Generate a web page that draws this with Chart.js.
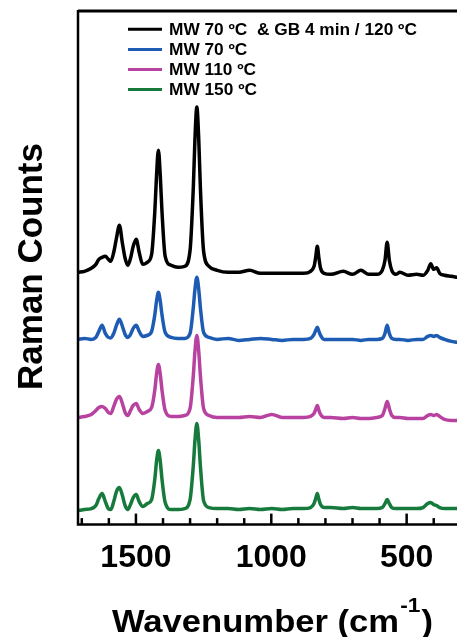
<!DOCTYPE html>
<html>
<head>
<meta charset="utf-8">
<script src="https://cdn.jsdelivr.net/npm/chart.js@4.4.1/dist/chart.umd.min.js"></script>
<style>
  body { margin: 0; background: #fff; }
  canvas { display: block; }
</style>
</head>
<body>
<canvas id="ramanChart" width="457" height="637"></canvas>
<script>
// wavenumber grid (cm-1), shared by all four spectra
var wavenumbers = [1714, 1690, 1665, 1648, 1637, 1625, 1613, 1602, 1593, 1582,
    1572, 1561, 1550, 1540, 1530, 1520, 1510, 1499, 1488, 1475,
    1458, 1442, 1430, 1424, 1417, 1410, 1404, 1392, 1370, 1345,
    1320, 1300, 1288, 1282, 1275, 1268, 1262, 1250, 1230, 1200,
    1160, 1120, 1080, 1040, 998, 960, 920, 880, 855, 842,
    836, 830, 824, 818, 805, 780, 734, 700, 669, 640,
    610, 590, 580, 572, 564, 555, 540, 525, 495, 463,
    440, 422, 411, 400, 389, 378, 360, 335, 314];

// Raman counts (a.u., stacked as in the figure)
var countsGB120 = [252, 253, 256, 260, 265, 267, 268, 265, 263, 272,
    286, 299, 281, 266, 259, 266, 278, 285, 272, 260,
    262, 270, 314, 348, 374, 348, 314, 268, 259, 257,
    258, 274, 337, 385, 417, 385, 337, 273, 258, 254,
    252, 252, 254, 251, 251, 251, 251, 251, 253, 258,
    267, 278, 266, 256, 251, 250, 253, 250, 254, 250,
    250, 254, 264, 282, 264, 254, 250, 252, 249, 250,
    249, 254, 260.5, 255, 256.5, 251, 249, 248, 247];
var countsMW70 = [185, 186, 185, 187, 193, 199, 191, 187, 186.5, 191,
    199, 205, 198, 190, 187, 190, 196, 199, 193, 188,
    189, 193, 210, 223, 232, 223, 210, 192, 187, 186,
    186, 191, 217, 235, 247, 235, 217, 192, 187, 185,
    186, 184, 185, 186, 185, 184, 185, 185, 186, 190,
    194, 197, 193, 189, 185, 185, 185, 185, 184, 185,
    185, 186, 191, 199, 191, 186, 185, 185, 184, 185,
    185, 188, 189, 188, 189, 187, 185, 183, 182];
var countsMW110 = [107, 108, 110, 114, 117, 118, 116, 112, 111, 118,
    125, 128, 121, 112, 109, 114, 119, 121, 115, 111,
    113, 117, 135, 150, 160, 150, 135, 114, 108, 108,
    109, 116, 149, 173, 189, 173, 149, 116, 109, 107,
    107, 107, 108, 107, 110, 107, 107, 107, 108, 111,
    115, 119, 114, 110, 107, 107, 106, 107, 106, 106,
    107, 109, 116, 123, 116, 109, 107, 107, 106, 106,
    106, 109, 110, 109, 110, 108, 105, 104, 104];
var countsMW150 = [14, 15, 16, 19, 26, 31, 23, 16, 15, 23,
    33, 37, 29, 19, 15, 20, 27, 30, 23, 18,
    21, 25, 46, 63, 74, 63, 46, 22, 15, 15,
    16, 25, 59, 84, 101, 84, 59, 24, 17, 16,
    16, 15, 16, 15, 16, 15, 16, 16, 17, 21,
    26, 31, 25, 20, 17, 17, 16, 17, 16, 16,
    16, 17, 21, 25, 21, 17, 16, 16, 16, 16,
    17, 21, 22, 20, 19, 17, 16, 16, 16];

var seriesNames = ['MW 70 ºC  & GB 4 min / 120 ºC', 'MW 70 ºC', 'MW 110 ºC', 'MW 150 ºC'];
var seriesColors = ['#000000', '#1e5cb3', '#b8429f', '#157a3c'];
var tickLabels = [1500, 1000, 500];
var minorTicks = [1700, 1600, 1400, 1300, 1200, 1100, 900, 800, 700, 600, 400];

var fontFamily = '"Liberation Sans", Arial, sans-serif';

function toPoints(values) {
    return wavenumbers.map(function(w, i) { return { x: w, y: values[i] }; });
}

var allCounts = [countsGB120, countsMW70, countsMW110, countsMW150];
var datasets = [];
for (var i = 0; i < allCounts.length; i++) {
    datasets.push({
        label: seriesNames[i],
        data: toPoints(allCounts[i]),
        borderColor: seriesColors[i],
        borderWidth: 3.5,
        pointRadius: 0,
        cubicInterpolationMode: 'monotone',
        borderJoinStyle: 'round',
        borderCapStyle: 'round',
        fill: false
    });
}

// frame, inward ticks, axis titles and legend
var decorations = {
    id: 'decorations',
    afterDraw: function(chart) {
        var ctx = chart.ctx;
        var area = chart.chartArea;
        var xs = chart.scales.x;
        ctx.save();
        ctx.strokeStyle = '#000';
        ctx.fillStyle = '#000';

        ctx.lineWidth = 3;
        ctx.beginPath();
        ctx.moveTo(area.left, area.top + 1);
        ctx.lineTo(chart.width, area.top + 1);
        ctx.stroke();

        ctx.lineWidth = 2.5;
        ctx.beginPath();
        ctx.moveTo(area.left, area.top);
        ctx.lineTo(area.left, area.bottom);
        ctx.lineTo(chart.width, area.bottom);
        ctx.stroke();

        minorTicks.forEach(function(v) {
            var px = xs.getPixelForValue(v);
            ctx.beginPath();
            ctx.moveTo(px, area.bottom);
            ctx.lineTo(px, area.bottom - 6.5);
            ctx.stroke();
        });
        tickLabels.forEach(function(v) {
            var px = xs.getPixelForValue(v);
            ctx.beginPath();
            ctx.moveTo(px, area.bottom);
            ctx.lineTo(px, area.bottom - 11);
            ctx.stroke();
        });

        // x title with superscript
        var mainText = 'Wavenumber (cm';
        var supText = '-1';
        var closeText = ')';
        ctx.font = 'bold 32px ' + fontFamily;
        var w1 = ctx.measureText(mainText).width;
        var w3 = ctx.measureText(closeText).width;
        ctx.font = 'bold 21px ' + fontFamily;
        var w2 = ctx.measureText(supText).width;
        var sx = 321 / (w1 + w2 + w3 + 2);
        ctx.save();
        ctx.translate(112, 632);
        ctx.scale(sx, 1);
        ctx.textAlign = 'left';
        ctx.textBaseline = 'alphabetic';
        ctx.font = 'bold 32px ' + fontFamily;
        ctx.fillText(mainText, 0, 0);
        ctx.fillText(closeText, w1 + w2 + 2, 0);
        ctx.font = 'bold 21px ' + fontFamily;
        ctx.fillText(supText, w1 + 1, -20);
        ctx.restore();

        // y title
        ctx.save();
        ctx.translate(42, 266.5);
        ctx.rotate(-Math.PI / 2);
        ctx.textAlign = 'center';
        ctx.textBaseline = 'alphabetic';
        ctx.font = 'bold 35px ' + fontFamily;
        ctx.fillText('Raman Counts', 0, 0);
        ctx.restore();

        // legend
        chart.data.datasets.forEach(function(ds, k) {
            var y = 29.3 + k * 20.1;
            ctx.strokeStyle = ds.borderColor;
            ctx.lineWidth = 3;
            ctx.beginPath();
            ctx.moveTo(128, y);
            ctx.lineTo(162, y);
            ctx.stroke();
            ctx.save();
            ctx.translate(169, y);
            ctx.scale(1.08, 1);
            ctx.font = 'bold 16px ' + fontFamily;
            ctx.fillStyle = '#000';
            ctx.textAlign = 'left';
            ctx.textBaseline = 'middle';
            ctx.fillText(ds.label, 0, 1);
            ctx.restore();
        });
        ctx.restore();
    }
};

var ctx = document.getElementById('ramanChart').getContext('2d');
var ramanChart = new Chart(ctx, {
    type: 'line',
    data: { datasets: datasets },
    options: {
        responsive: false,
        animation: false,
        devicePixelRatio: 1,
        layout: { padding: { left: 78, top: 10, right: 0, bottom: 54 } },
        scales: {
            x: {
                type: 'linear',
                reverse: true,
                min: 314,
                max: 1714,
                grid: { display: false },
                border: { display: false },
                afterBuildTicks: function(scale) {
                    scale.ticks = tickLabels.map(function(v) { return { value: v }; });
                },
                ticks: {
                    color: '#000',
                    padding: 6,
                    maxRotation: 0,
                    autoSkip: false,
                    font: { family: fontFamily, size: 32, weight: 'bold' },
                    callback: function(value) { return String(value); }
                }
            },
            y: {
                display: false,
                min: 0,
                max: 514
            }
        },
        plugins: {
            legend: { display: false },
            tooltip: { enabled: false }
        }
    },
    plugins: [decorations]
});
</script>
</body>
</html>
